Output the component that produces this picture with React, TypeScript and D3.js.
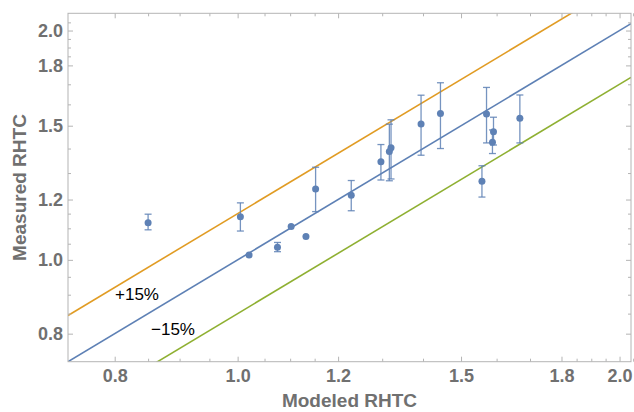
import * as d3 from "d3";
import React, { useRef, useEffect } from "react";

// modeled vs measured RHTC, error bars as [low, high] (null = no bar)
const modeled = [0.85, 1.005, 1.021, 1.075, 1.102, 1.132, 1.152, 1.229, 1.297, 1.317, 1.321, 1.395, 1.445, 1.571, 1.591, 1.588, 1.669, 1.558];
const measured = [1.119, 1.139, 1.015, 1.039, 1.106, 1.073, 1.239, 1.216, 1.345, 1.387, 1.403, 1.508, 1.556, 1.554, 1.473, 1.427, 1.534, 1.268];
const errLow = [1.095, 1.091, null, 1.025, null, null, 1.157, 1.16, 1.273, 1.27, 1.277, 1.372, 1.4, 1.424, 1.415, 1.379, 1.424, 1.209];
const errHigh = [1.148, 1.188, null, 1.054, null, null, 1.323, 1.271, 1.417, 1.507, 1.527, 1.645, 1.708, 1.684, 1.539, 1.481, 1.646, 1.329];

const majorTicks = [0.8, 1.0, 1.2, 1.5, 1.8, 2.0];
const minorTicks = [0.85, 0.9, 0.95, 1.05, 1.1, 1.15, 1.3, 1.4, 1.6, 1.7, 1.85, 1.9, 1.95, 2.05];

// reference lines y = k * x
const bands = [
  { k: 1.0, color: "#5E81B5" },
  { k: 1.15, color: "#E19C24" },
  { k: 0.85, color: "#8FB032" },
];

const width = 634;
const height = 412;

export default function App() {
  const ref = useRef(null);

  useEffect(() => {
    const svg = d3.select(ref.current);
    svg.selectAll("*").remove();

    const left = 68, top = 13.3, right = 631, bottom = 361.7;
    const x = d3.scaleLog().domain([0.735, 2.042]).range([left, right]);
    const y = d3.scaleLog().domain([0.735, 2.107]).range([bottom, top]);

    const frameColor = "#b4b4b4";
    const labelColor = "#707070";
    const font = "'Liberation Sans', Arial, sans-serif";

    svg
      .append("defs")
      .append("clipPath")
      .attr("id", "plot")
      .append("rect")
      .attr("x", left)
      .attr("y", top)
      .attr("width", right - left)
      .attr("height", bottom - top);

    // reference lines
    const xs = [0.735, 2.042];
    bands.forEach((b) => {
      const line = d3
        .line()
        .x((d) => x(d))
        .y((d) => y(d * b.k));
      svg
        .append("path")
        .attr("d", line(xs))
        .attr("fill", "none")
        .attr("stroke", b.color)
        .attr("stroke-width", 1.6)
        .attr("clip-path", "url(#plot)");
    });

    // axes: major ticks w/ labels, minor without, all pointing inward
    const fmt = d3.format(".1f");
    const styleAxis = (g, labels) => {
      g.select(".domain").remove();
      g.selectAll("line").attr("stroke", frameColor);
      g.selectAll("text")
        .attr("fill", labelColor)
        .style("font-family", font)
        .style("font-size", "18px")
        .style("font-weight", "bold");
      if (!labels) g.selectAll("text").remove();
    };

    const axes = [
      { pos: `translate(0,${bottom})`, gen: d3.axisBottom(x), pad: 8, labels: true },
      { pos: `translate(0,${top})`, gen: d3.axisTop(x), pad: 0, labels: false },
      { pos: `translate(${left},0)`, gen: d3.axisLeft(y), pad: 5, labels: true },
      { pos: `translate(${right},0)`, gen: d3.axisRight(y), pad: 0, labels: false },
    ];
    axes.forEach((a) => {
      const gMaj = svg.append("g").attr("transform", a.pos);
      gMaj.call(a.gen.tickValues(majorTicks).tickFormat(fmt).tickSizeInner(-5).tickSizeOuter(0).tickPadding(a.pad));
      styleAxis(gMaj, a.labels);
      const gMin = svg.append("g").attr("transform", a.pos);
      gMin.call(a.gen.tickValues(minorTicks).tickFormat(() => "").tickSizeInner(-3).tickSizeOuter(0));
      styleAxis(gMin, false);
    });

    svg
      .append("rect")
      .attr("x", left)
      .attr("y", top)
      .attr("width", right - left)
      .attr("height", bottom - top)
      .attr("fill", "none")
      .attr("stroke", frameColor)
      .attr("stroke-width", 1);

    // error bars
    const blue = "#5E81B5";
    const eb = svg.append("g").attr("stroke", blue).attr("stroke-width", 1.3).attr("stroke-opacity", 0.85);
    modeled.forEach((m, i) => {
      if (errLow[i] == null) return;
      const cx = x(m);
      const y0 = y(errLow[i]);
      const y1 = y(errHigh[i]);
      eb.append("line").attr("x1", cx).attr("x2", cx).attr("y1", y0).attr("y2", y1);
      eb.append("line").attr("x1", cx - 3.5).attr("x2", cx + 3.5).attr("y1", y0).attr("y2", y0);
      eb.append("line").attr("x1", cx - 3.5).attr("x2", cx + 3.5).attr("y1", y1).attr("y2", y1);
    });

    svg
      .append("g")
      .selectAll("circle")
      .data(modeled)
      .enter()
      .append("circle")
      .attr("cx", (d) => x(d))
      .attr("cy", (d, i) => y(measured[i]))
      .attr("r", 3.5)
      .attr("fill", blue);

    // line labels
    svg
      .append("text")
      .attr("x", 115)
      .attr("y", 300)
      .style("font-family", font)
      .style("font-size", "17px")
      .text("+15%");
    svg
      .append("text")
      .attr("x", 151)
      .attr("y", 335)
      .style("font-family", font)
      .style("font-size", "17px")
      .text("\u221215%");

    // axis titles
    svg
      .append("text")
      .attr("x", (left + right) / 2)
      .attr("y", 407)
      .attr("text-anchor", "middle")
      .attr("fill", labelColor)
      .style("font-family", font)
      .style("font-size", "19px")
      .style("font-weight", "bold")
      .text("Modeled RHTC");
    svg
      .append("text")
      .attr("transform", `translate(26,${(top + bottom) / 2}) rotate(-90)`)
      .attr("text-anchor", "middle")
      .attr("fill", labelColor)
      .style("font-family", font)
      .style("font-size", "19px")
      .style("font-weight", "bold")
      .text("Measured RHTC");
  }, []);

  return (
    <svg
      ref={ref}
      width={width}
      height={height}
      style={{ position: "absolute", left: 0, top: 0, background: "#fff" }}
    ></svg>
  );
}
